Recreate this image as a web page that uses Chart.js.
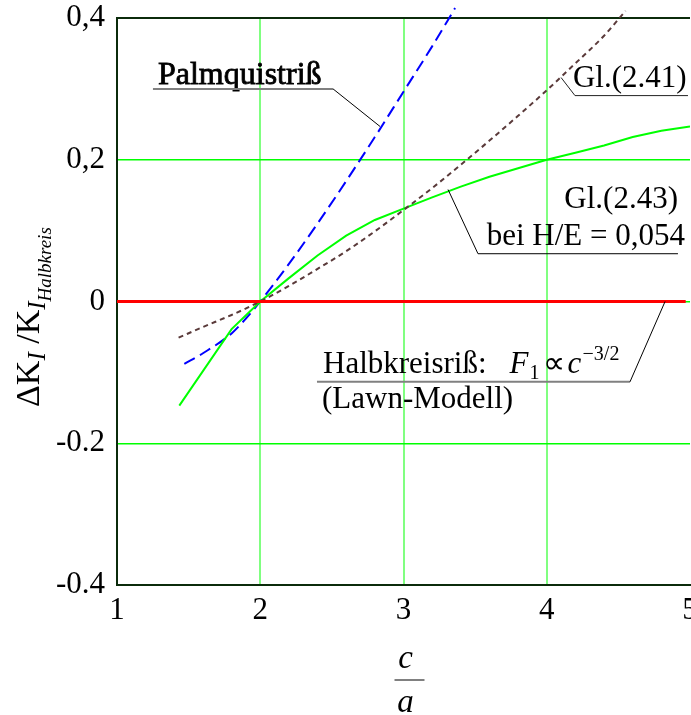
<!DOCTYPE html>
<html>
<head>
<meta charset="utf-8">
<script src="https://cdn.jsdelivr.net/npm/chart.js@4.4.0/dist/chart.umd.min.js"></script>
<style>
  html, body { margin: 0; padding: 0; background: #fff; }
  canvas { display: block; }
</style>
</head>
<body>
<canvas id="chart" width="691" height="715"></canvas>
<script>
// Achsen
const xTicks = [1, 2, 3, 4, 5];
const yTicks = [-0.4, -0.2, 0, 0.2, 0.4];
const yTickLabels = ["-0.4", "-0.2", "0", "0,2", "0,4"];

// Palmquistriß (blau gestrichelt)
const palmX = [1.47, 1.6, 1.8, 1.9, 2.0, 2.2, 2.4, 2.6, 2.8, 3.0, 3.2, 3.36];
const palmY = [-0.088, -0.073, -0.045, -0.024, 0, 0.053, 0.11, 0.17, 0.232, 0.296, 0.36, 0.414];

// Gl.(2.41) (braun gepunktet)
const gl41X = [1.43, 1.6, 1.8, 2.0, 2.2, 2.4, 2.6, 2.8, 3.0, 3.2, 3.4, 3.6, 3.8, 4.0, 4.2, 4.4, 4.55];
const gl41Y = [-0.051, -0.036, -0.019, 0, 0.022, 0.046, 0.071, 0.099, 0.129, 0.16, 0.193, 0.227, 0.262, 0.298, 0.336, 0.375, 0.41];

// Gl.(2.43) bei H/E = 0,054 (grün)
const gl43X = [1.435, 1.8, 2.0, 2.2, 2.4, 2.6, 2.8, 3.0, 3.2, 3.4, 3.6, 3.8, 4.0, 4.2, 4.4, 4.6, 4.8, 5.0];
const gl43Y = [-0.147, -0.039, 0, 0.033, 0.065, 0.093, 0.115, 0.131, 0.147, 0.162, 0.176, 0.188, 0.2, 0.21, 0.22, 0.232, 0.241, 0.247];

// Halbkreisriß (rot)
const halbX = [1, 4.97];
const halbY = [0, 0];

const toPoints = (xs, ys) => xs.map((x, i) => ({ x: x, y: ys[i] }));
const serif = "'Liberation Serif', 'Times New Roman', serif";
const frame = "#0b2b0b";
const same = (a, b) => Math.abs(a - b) < 1e-9;

// Beschriftungen mit Hinweislinien
const annotations = {
  id: "annotations",
  afterDatasetsDraw(chart) {
    const { ctx, scales: { x, y } } = chart;
    const X = v => x.getPixelForValue(v);
    const Y = v => y.getPixelForValue(v);
    const line = (pts, color, w) => {
      ctx.beginPath();
      ctx.strokeStyle = color;
      ctx.lineWidth = w;
      pts.forEach((p, i) => i ? ctx.lineTo(X(p[0]), Y(p[1])) : ctx.moveTo(X(p[0]), Y(p[1])));
      ctx.stroke();
    };
    ctx.save();
    ctx.fillStyle = "#000";
    ctx.textBaseline = "alphabetic";

    // Palmquistriß (halbfett)
    ctx.font = "32px " + serif;
    ctx.textAlign = "left";
    ctx.fillText("Palmquistriß", X(1.286), Y(0.307));
    ctx.strokeStyle = "#000";
    ctx.lineWidth = 0.8;
    ctx.strokeText("Palmquistriß", X(1.286), Y(0.307));
    line([[1.251, 0.300], [2.508, 0.300]], "#808080", 2);
    line([[2.508, 0.300], [2.836, 0.247]], "#000", 1);

    // Gl.(2.41)
    ctx.font = "31px " + serif;
    ctx.fillText("Gl.(2.41)", X(4.183), Y(0.302));
    line([[4.10, 0.316], [4.197, 0.2905], [4.986, 0.2905]], "#222", 1);

    // Gl.(2.43)
    ctx.textAlign = "right";
    ctx.fillText("Gl.(2.43)", X(4.916), Y(0.132));
    ctx.fillText("bei H/E = 0,054", X(4.965), Y(0.080));
    line([[3.311, 0.158], [3.52, 0.0674], [4.916, 0.0674]], "#000", 1);

    // Halbkreisriß
    ctx.textAlign = "left";
    const hx = X(2.438), hy = Y(-0.1007);
    ctx.fillText("Halbkreisriß:", hx, hy);
    ctx.fillText("(Lawn-Modell)", X(2.431), Y(-0.150));
    const fx = hx + ctx.measureText("Halbkreisriß:").width + 23;
    ctx.font = "italic 31px " + serif;
    ctx.fillText("F", fx, hy);
    ctx.font = "20px " + serif;
    ctx.fillText("1", fx + 20, hy + 6);
    ctx.font = "31px " + serif;
    ctx.fillText("\u221D", fx + 33, hy);
    ctx.font = "italic 31px " + serif;
    ctx.fillText("c", fx + 58, hy);
    ctx.font = "20px " + serif;
    ctx.fillText("\u22123/2", fx + 73, hy - 13);
    line([[2.396, -0.1134], [4.581, -0.1134]], "#808080", 2);
    line([[4.581, -0.1134], [4.826, 0]], "#000", 1);
    ctx.restore();
  },
  afterDraw(chart) {
    const { ctx, chartArea } = chart;
    ctx.save();
    ctx.fillStyle = "#000";
    ctx.textBaseline = "alphabetic";

    // x-Achsentitel c/a
    const cx = (chartArea.left + chartArea.right) / 2;
    ctx.textAlign = "center";
    ctx.font = "italic 33px " + serif;
    ctx.fillText("c", cx + 2, 668);
    ctx.fillText("a", cx + 2, 712);
    ctx.strokeStyle = "#808080";
    ctx.lineWidth = 2;
    ctx.beginPath();
    ctx.moveTo(cx - 9, 680);
    ctx.lineTo(cx + 21, 680);
    ctx.stroke();

    // y-Achsentitel
    ctx.translate(39, 407);
    ctx.rotate(-Math.PI / 2);
    ctx.textAlign = "left";
    const parts = [
      ["\u0394K", "34px", 0],
      ["I", "italic 25px", 6],
      [" /K", "34px", 0],
      ["I", "italic 25px", 6],
      ["Halbkreis", "italic 19px", 12]
    ];
    let pos = 0;
    parts.forEach(([t, f, dy]) => {
      ctx.font = f + " " + serif;
      ctx.fillText(t, pos, dy);
      pos += ctx.measureText(t).width;
    });
    ctx.restore();
  }
};

new Chart(document.getElementById("chart"), {
  type: "line",
  data: {
    datasets: [
      {
        label: "Halbkreisriß",
        data: toPoints(halbX, halbY),
        borderColor: "#ff0000",
        borderWidth: 3,
        pointRadius: 0
      },
      {
        label: "Gl.(2.41)",
        data: toPoints(gl41X, gl41Y),
        borderColor: "#5a3a3a",
        borderWidth: 2,
        borderDash: [5, 4],
        pointRadius: 0,
        cubicInterpolationMode: "monotone",
        clip: false
      },
      {
        label: "Gl.(2.43)",
        data: toPoints(gl43X, gl43Y),
        borderColor: "#00ff00",
        borderWidth: 2,
        pointRadius: 0
      },
      {
        label: "Palmquistriß",
        data: toPoints(palmX, palmY),
        borderColor: "#0000ff",
        borderWidth: 2,
        borderDash: [12, 6],
        pointRadius: 0,
        cubicInterpolationMode: "monotone",
        clip: false
      }
    ]
  },
  options: {
    responsive: false,
    animation: false,
    layout: { padding: { top: 18, right: 1, left: 0, bottom: 0 } },
    plugins: { legend: { display: false }, tooltip: { enabled: false } },
    scales: {
      x: {
        type: "linear",
        min: 1,
        max: 5,
        afterBuildTicks: s => { s.ticks = xTicks.map(v => ({ value: v })); },
        afterFit: s => { s.height = 130; s.paddingLeft = 0; s.paddingRight = 0; },
        ticks: {
          font: { family: serif, size: 31 },
          color: "#000",
          padding: 7,
          maxRotation: 0
        },
        grid: {
          drawTicks: false,
          color: c => same(c.tick.value, 1) ? frame : same(c.tick.value, 5) ? "rgba(0,0,0,0)" : "#80ff80",
          lineWidth: 2
        },
        border: { color: frame, width: 2 }
      },
      y: {
        min: -0.4,
        max: 0.4,
        afterBuildTicks: s => { s.ticks = yTicks.map(v => ({ value: v })); },
        afterFit: s => { s.width = 117; s.paddingTop = 0; s.paddingBottom = 0; },
        ticks: {
          font: { family: serif, size: 31 },
          color: "#000",
          padding: 12,
          callback: v => {
            const i = yTicks.findIndex(t => same(t, v));
            return i < 0 ? "" : yTickLabels[i];
          }
        },
        grid: {
          drawTicks: false,
          color: c => same(Math.abs(c.tick.value), 0.4) ? frame : "#00ff00",
          lineWidth: c => same(Math.abs(c.tick.value), 0.4) ? 2 : 1.5
        },
        border: { color: frame, width: 2 }
      }
    }
  },
  plugins: [annotations]
});
</script>
</body>
</html>
